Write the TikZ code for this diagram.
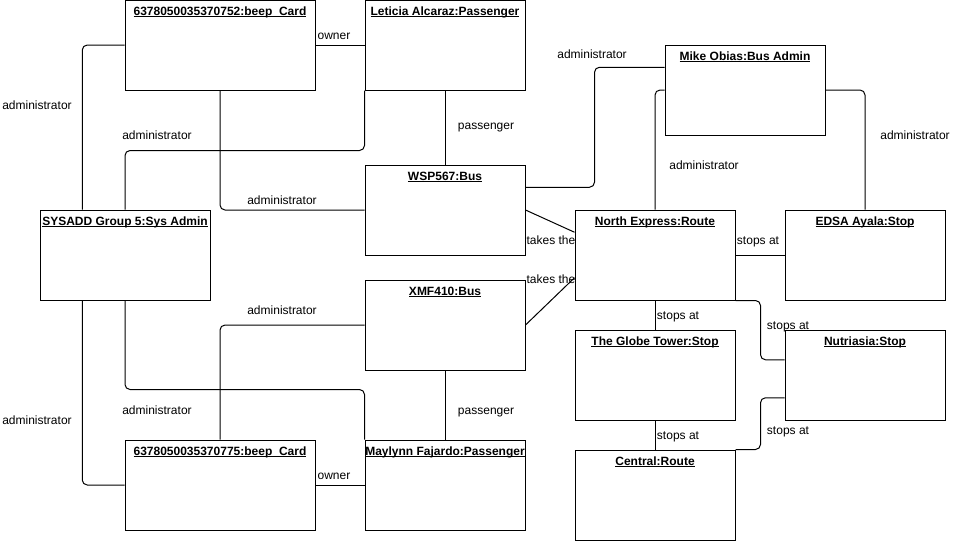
\documentclass[tikz,border=0pt]{standalone}
\usepackage{fontspec}
\setmainfont{Liberation Sans}
\usetikzlibrary{calc}

\newsavebox{\ttlbox}
\newcommand{\ultitle}[1]{\sbox{\ttlbox}{#1}\rlap{\vrule height -1.4pt depth 2.4pt width \wd\ttlbox}\usebox{\ttlbox}}

\tikzset{
	obj/.style={draw, line width=1pt, minimum width=160pt, minimum height=90pt, inner sep=0pt,
		label={[ttl]north:{\ultitle{#1}}}},
	ttl/.style={anchor=base, yshift=-15.5pt, inner sep=0pt, font=\fontsize{12}{14}\selectfont\bfseries},
	lbl/.style={anchor=base, inner sep=0pt, font=\fontsize{12}{14}\selectfont},
	conn/.style={draw, line width=1pt, rounded corners=5pt}
}

\begin{document}
\begin{tikzpicture}[x=1pt, y=-1pt]
			\useasboundingbox (0,0) rectangle (966,541);

			\node[obj={6378050035370752:beep\_Card}, minimum width=190pt] (card1)   at (220, 45)  {};
			\node[obj={Leticia Alcaraz:Passenger}] (leticia)   at (445, 45)  {};
			\node[obj={WSP567:Bus}] (wsp)   at (445, 210)  {};
			\node[obj={SYSADD Group 5:Sys Admin}, minimum width=170pt] (sys)   at (125, 255)  {};
			\node[obj={XMF410:Bus}] (xmf)   at (445, 325)  {};
			\node[obj={6378050035370775:beep\_Card}, minimum width=190pt] (card2)   at (220, 485)  {};
			\node[obj={Maylynn Fajardo:Passenger}] (maylynn)   at (445, 485)  {};
			\node[obj={Mike Obias:Bus Admin}] (mike)   at (745, 90)  {};
			\node[obj={North Express:Route}] (north)   at (655, 255)  {};
			\node[obj={EDSA Ayala:Stop}] (edsa)   at (865, 255)  {};
			\node[obj={The Globe Tower:Stop}] (globe)   at (655, 375)  {};
			\node[obj={Nutriasia:Stop}] (nutri)   at (865, 375)  {};
			\node[obj={Central:Route}] (central)   at (655, 495)  {};

			% sys admin links
			\draw[conn] ($(sys.north west)!0.25!(sys.north east)$) |- (card1.west);
			\draw[conn] (sys.north) |- ($(leticia.south west)+(0,60)$) -- (leticia.south west);
			\draw[conn] (card1.south) |- (wsp.west);
			\draw[conn] ($(sys.south west)!0.25!(sys.south east)$) |- (card2.west);
			\draw[conn] (sys.south) |- ($(maylynn.north west)+(0,-50)$) -- (maylynn.north west);
			\draw[conn] (xmf.west) -| (card2.north);

			\draw[conn] (card1.east) -- (leticia.west);
			\draw[conn] (leticia.south) -- (wsp.north);
			\draw[conn] (card2.east) -- (maylynn.west);
			\draw[conn] (xmf.south) -- (maylynn.north);

			% buses and route
			\draw[conn] (wsp.east) -- ($(north.north west)!0.25!(north.south west)$);
			\draw[conn] (xmf.east) -- ($(north.north west)!0.75!(north.south west)$);
			\draw[conn] ($(wsp.north east)!0.25!(wsp.south east)$) -| ($(mike.north west)!0.25!(mike.south west)+(-70,0)$) -- ($(mike.north west)!0.25!(mike.south west)$);
			\draw[conn] (mike.west) -| (north.north);
			\draw[conn] (mike.east) -| (edsa.north);

			% stops
			\draw[conn] (north.east) -- (edsa.west);
			\draw[conn] (north.south) -- (globe.north);
			\draw[conn] (globe.south) -- (central.north);
			\draw[conn] (north.south east) -- ++(25,0) |- ($(nutri.north west)!0.333!(nutri.south west)$);
			\draw[conn] ($(nutri.north west)!0.75!(nutri.south west)$) -| ($(central.north east)+(25,0)$) -- (central.north east);

			% labels
			\node[lbl] (l1)   at (37, 109)  {administrator};
			\node[lbl] (l2)   at (157, 139)  {administrator};
			\node[lbl] (l3)   at (282, 204)  {administrator};
			\node[lbl] (l4)   at (334, 39)  {owner};
			\node[lbl] (l5)   at (486, 129)  {passenger};
			\node[lbl] (l6)   at (37, 424)  {administrator};
			\node[lbl] (l7)   at (157, 414)  {administrator};
			\node[lbl] (l8)   at (282, 314)  {administrator};
			\node[lbl] (l9)   at (334, 479)  {owner};
			\node[lbl] (l10)   at (486, 414)  {passenger};
			\node[lbl] (l11)   at (592, 58)  {administrator};
			\node[lbl] (l12)   at (704, 169)  {administrator};
			\node[lbl] (l13)   at (915, 139)  {administrator};
			\node[lbl] (l14)   at (551, 244)  {takes the};
			\node[lbl] (l15)   at (551, 283)  {takes the};
			\node[lbl] (l16)   at (758, 244)  {stops at};
			\node[lbl] (l17)   at (678, 319)  {stops at};
			\node[lbl] (l18)   at (788, 329)  {stops at};
			\node[lbl] (l19)   at (788, 434)  {stops at};
			\node[lbl] (l20)   at (678, 439)  {stops at};
		\end{tikzpicture}
\end{document}
